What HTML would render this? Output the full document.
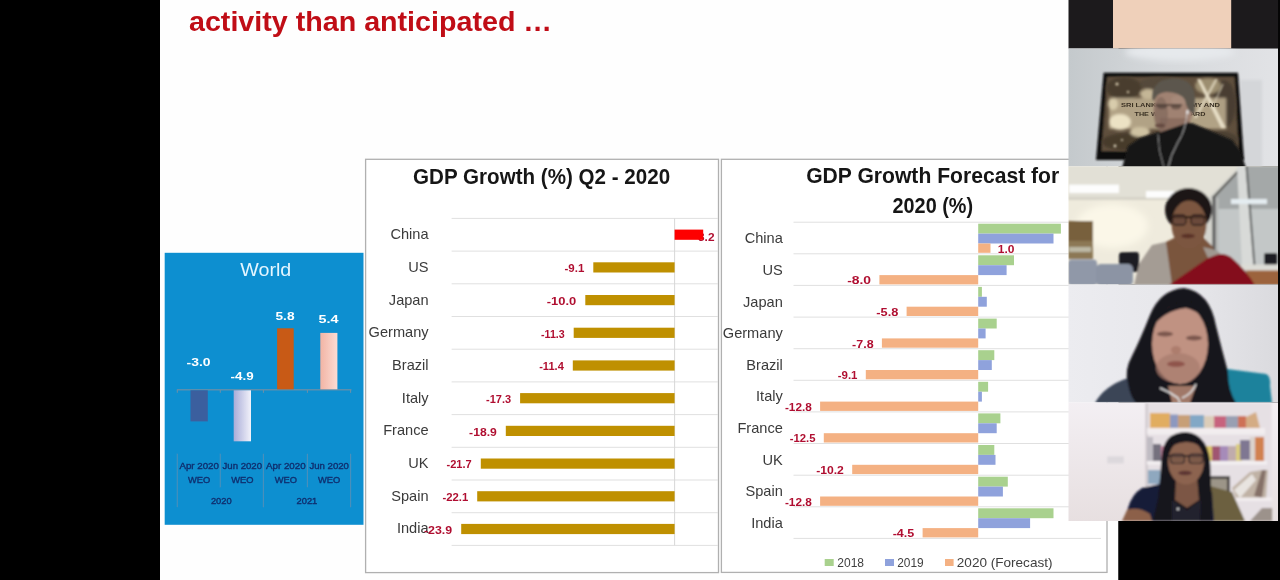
<!DOCTYPE html>
<html><head><meta charset="utf-8"><title>Webinar</title>
<style>
html,body{margin:0;padding:0;background:#000;}
body{width:1280px;height:580px;overflow:hidden;position:relative;}
svg{position:absolute;left:0;top:0;display:block;}
text{font-family:"Liberation Sans",sans-serif;}
.lbl{font-size:14.6px;fill:#3a3a3a;text-anchor:end;}
.val{font-size:11.6px;font-weight:bold;fill:#b01030;text-anchor:end;}
.ttl{font-size:21.5px;font-weight:bold;fill:#151515;text-anchor:middle;}
.wl{font-size:9.3px;fill:#123070;text-anchor:middle;stroke:#123070;stroke-width:0.4px;}
.wv{font-size:11.6px;font-weight:bold;fill:#fff;text-anchor:middle;}
.lg{font-size:13px;fill:#404040;}
</style></head><body>
<svg width="1280" height="580" viewBox="0 0 1280 580">
<defs>
<filter id="b1" x="-5%" y="-5%" width="110%" height="110%"><feGaussianBlur stdDeviation="0.9"/></filter>
<filter id="b2" x="-10%" y="-10%" width="120%" height="120%"><feGaussianBlur stdDeviation="1.6"/></filter>
<filter id="b3" x="-20%" y="-20%" width="140%" height="140%"><feGaussianBlur stdDeviation="3"/></filter>
<filter id="tb"><feGaussianBlur stdDeviation="0.35"/></filter>
<linearGradient id="gpink" x1="0" x2="1" y1="0" y2="0"><stop offset="0" stop-color="#f2b4a4"/><stop offset="1" stop-color="#fbdcd4"/></linearGradient>
<linearGradient id="glav" x1="0" x2="1" y1="0" y2="0"><stop offset="0" stop-color="#a8acd8"/><stop offset="1" stop-color="#f2f2fa"/></linearGradient>
<clipPath id="c1"><rect x="1068.5" y="48.5" width="211.5" height="118"/></clipPath>
<clipPath id="c2"><rect x="1068.5" y="166.5" width="211.5" height="118"/></clipPath>
<clipPath id="c3"><rect x="1068.5" y="284.5" width="211.5" height="118"/></clipPath>
<clipPath id="c4"><rect x="1068.5" y="402.5" width="211.5" height="118.5"/></clipPath>
</defs>
<rect x="0" y="0" width="1280" height="580" fill="#000"/>
<rect x="160" y="0" width="958.5" height="580" fill="#fefefe"/>

<g filter="url(#tb)">
<text x="189" y="31" font-size="28px" font-weight="bold" fill="#c00a14" textLength="363" lengthAdjust="spacingAndGlyphs">activity than anticipated …</text>
<rect x="164.7" y="252.8" width="198.8" height="272" fill="#0f8fd0"/>
<text x="265.8" y="275.5" font-size="18.5px" fill="#e4f6ff" text-anchor="middle" textLength="51" lengthAdjust="spacingAndGlyphs">World</text>
<rect x="176.8" y="389.2" width="174.6" height="1.2" fill="#6f8fa6"/>
<rect x="176.8" y="453.7" width="1" height="53.5" fill="#4f8fb8"/>
<rect x="176.8" y="389.8" width="1" height="3" fill="#6f8fa6"/>
<rect x="219.8" y="453.7" width="1" height="33.6" fill="#4f8fb8"/>
<rect x="219.8" y="389.8" width="1" height="3" fill="#6f8fa6"/>
<rect x="262.9" y="453.7" width="1" height="53.5" fill="#4f8fb8"/>
<rect x="262.9" y="389.8" width="1" height="3" fill="#6f8fa6"/>
<rect x="306.9" y="453.7" width="1" height="33.6" fill="#4f8fb8"/>
<rect x="306.9" y="389.8" width="1" height="3" fill="#6f8fa6"/>
<rect x="350.1" y="453.7" width="1" height="53.5" fill="#4f8fb8"/>
<rect x="350.1" y="389.8" width="1" height="3" fill="#6f8fa6"/>
<rect x="190.5" y="390.3" width="17.3" height="31.1" fill="#3a5f9e"/>
<rect x="233.7" y="390.3" width="17.3" height="51" fill="url(#glav)"/>
<rect x="277.1" y="328.3" width="16.6" height="61" fill="#c85a12"/>
<rect x="320.3" y="332.9" width="17.1" height="56.4" fill="url(#gpink)"/>
<text class="wv" x="198.5" y="366" textLength="24" lengthAdjust="spacingAndGlyphs">-3.0</text>
<text class="wv" x="242.1" y="379.5" textLength="23" lengthAdjust="spacingAndGlyphs">-4.9</text>
<text class="wv" x="285" y="319.5" textLength="19" lengthAdjust="spacingAndGlyphs">5.8</text>
<text class="wv" x="328.5" y="322.6" textLength="20" lengthAdjust="spacingAndGlyphs">5.4</text>
<text class="wl" x="199.2" y="469.2" textLength="39.5" lengthAdjust="spacingAndGlyphs">Apr 2020</text>
<text class="wl" x="199.2" y="482.7">WEO</text>
<text class="wl" x="242.3" y="469.2" textLength="39.5" lengthAdjust="spacingAndGlyphs">Jun 2020</text>
<text class="wl" x="242.3" y="482.7">WEO</text>
<text class="wl" x="285.8" y="469.2" textLength="39.5" lengthAdjust="spacingAndGlyphs">Apr 2020</text>
<text class="wl" x="285.8" y="482.7">WEO</text>
<text class="wl" x="329.2" y="469.2" textLength="39.5" lengthAdjust="spacingAndGlyphs">Jun 2020</text>
<text class="wl" x="329.2" y="482.7">WEO</text>
<text class="wl" x="221.3" y="503.6">2020</text>
<text class="wl" x="306.9" y="503.6">2021</text>
<rect x="365.6" y="159.3" width="352.9" height="413.3" fill="#fff" stroke="#b0b0b0" stroke-width="1.3"/>
<text class="ttl" x="541.6" y="183.5" textLength="257" lengthAdjust="spacingAndGlyphs">GDP Growth (%) Q2 - 2020</text>
<rect x="451.6" y="217.9" width="266.4" height="1" fill="#e0e0e0"/>
<rect x="451.6" y="250.6" width="266.4" height="1" fill="#e0e0e0"/>
<rect x="451.6" y="283.3" width="266.4" height="1" fill="#e0e0e0"/>
<rect x="451.6" y="316.0" width="266.4" height="1" fill="#e0e0e0"/>
<rect x="451.6" y="348.7" width="266.4" height="1" fill="#e0e0e0"/>
<rect x="451.6" y="381.4" width="266.4" height="1" fill="#e0e0e0"/>
<rect x="451.6" y="414.1" width="266.4" height="1" fill="#e0e0e0"/>
<rect x="451.6" y="446.8" width="266.4" height="1" fill="#e0e0e0"/>
<rect x="451.6" y="479.5" width="266.4" height="1" fill="#e0e0e0"/>
<rect x="451.6" y="512.2" width="266.4" height="1" fill="#e0e0e0"/>
<rect x="451.6" y="544.9" width="266.4" height="1" fill="#e0e0e0"/>
<rect x="674.1" y="218.4" width="1" height="327.0" fill="#d8d8d8"/>
<text class="val" x="714.5" y="241.2" textLength="16.5" lengthAdjust="spacingAndGlyphs">3.2</text>
<rect x="674.6" y="229.6" width="28.6" height="10.2" fill="#fe0000"/>
<rect x="593.3" y="262.3" width="81.3" height="10.2" fill="#bf9000"/>
<rect x="585.3" y="295.0" width="89.3" height="10.2" fill="#bf9000"/>
<rect x="573.7" y="327.7" width="100.9" height="10.2" fill="#bf9000"/>
<rect x="572.8" y="360.4" width="101.8" height="10.2" fill="#bf9000"/>
<rect x="520.1" y="393.1" width="154.5" height="10.2" fill="#bf9000"/>
<rect x="505.8" y="425.8" width="168.8" height="10.2" fill="#bf9000"/>
<rect x="480.8" y="458.5" width="193.8" height="10.2" fill="#bf9000"/>
<rect x="477.2" y="491.2" width="197.4" height="10.2" fill="#bf9000"/>
<rect x="461.2" y="523.9" width="213.4" height="10.2" fill="#bf9000"/>
<text class="lbl" x="428.6" y="239.1">China</text>
<text class="lbl" x="428.6" y="271.8">US</text>
<text class="val" x="584.3" y="272.1" textLength="19.8" lengthAdjust="spacingAndGlyphs">-9.1</text>
<text class="lbl" x="428.6" y="304.5">Japan</text>
<text class="val" x="576.3" y="304.8" textLength="29.5" lengthAdjust="spacingAndGlyphs">-10.0</text>
<text class="lbl" x="428.6" y="337.2">Germany</text>
<text class="val" x="564.7" y="337.5" textLength="23.7" lengthAdjust="spacingAndGlyphs">-11.3</text>
<text class="lbl" x="428.6" y="369.9">Brazil</text>
<text class="val" x="563.8" y="370.2" textLength="24.6" lengthAdjust="spacingAndGlyphs">-11.4</text>
<text class="lbl" x="428.6" y="402.6">Italy</text>
<text class="val" x="511.1" y="402.9" textLength="25.1" lengthAdjust="spacingAndGlyphs">-17.3</text>
<text class="lbl" x="428.6" y="435.3">France</text>
<text class="val" x="496.8" y="435.6" textLength="27.7" lengthAdjust="spacingAndGlyphs">-18.9</text>
<text class="lbl" x="428.6" y="468.0">UK</text>
<text class="val" x="471.8" y="468.3" textLength="25.3" lengthAdjust="spacingAndGlyphs">-21.7</text>
<text class="lbl" x="428.6" y="500.7">Spain</text>
<text class="val" x="468.2" y="501.0" textLength="25.8" lengthAdjust="spacingAndGlyphs">-22.1</text>
<text class="lbl" x="428.6" y="533.4">India</text>
<text class="val" x="452.2" y="533.7" textLength="28.2" lengthAdjust="spacingAndGlyphs">-23.9</text>
<rect x="721.4" y="159.3" width="385.6" height="413.1" fill="#fff" stroke="#b0b0b0" stroke-width="1.3"/>
<text class="ttl" x="932.7" y="183" textLength="253" lengthAdjust="spacingAndGlyphs">GDP Growth Forecast for</text>
<text class="ttl" x="932.8" y="213" textLength="80.5" lengthAdjust="spacingAndGlyphs">2020 (%)</text>
<rect x="793.5" y="221.7" width="307.5" height="1" fill="#e0e0e0"/>
<rect x="793.5" y="253.3" width="307.5" height="1" fill="#e0e0e0"/>
<rect x="793.5" y="284.9" width="307.5" height="1" fill="#e0e0e0"/>
<rect x="793.5" y="316.6" width="307.5" height="1" fill="#e0e0e0"/>
<rect x="793.5" y="348.2" width="307.5" height="1" fill="#e0e0e0"/>
<rect x="793.5" y="379.8" width="307.5" height="1" fill="#e0e0e0"/>
<rect x="793.5" y="411.4" width="307.5" height="1" fill="#e0e0e0"/>
<rect x="793.5" y="443.0" width="307.5" height="1" fill="#e0e0e0"/>
<rect x="793.5" y="474.7" width="307.5" height="1" fill="#e0e0e0"/>
<rect x="793.5" y="506.3" width="307.5" height="1" fill="#e0e0e0"/>
<rect x="793.5" y="537.9" width="307.5" height="1" fill="#e0e0e0"/>
<rect x="978.2" y="223.7" width="82.7" height="9.9" fill="#a9d18e"/>
<rect x="978.2" y="233.6" width="75.3" height="9.9" fill="#8fa2dc"/>
<rect x="978.2" y="243.5" width="12.3" height="9.3" fill="#f4b183"/>
<rect x="978.2" y="255.3" width="35.8" height="9.9" fill="#a9d18e"/>
<rect x="978.2" y="265.2" width="28.4" height="9.9" fill="#8fa2dc"/>
<rect x="879.4" y="275.1" width="98.8" height="9.3" fill="#f4b183"/>
<rect x="978.2" y="286.9" width="3.7" height="9.9" fill="#a9d18e"/>
<rect x="978.2" y="296.8" width="8.6" height="9.9" fill="#8fa2dc"/>
<rect x="906.6" y="306.7" width="71.6" height="9.3" fill="#f4b183"/>
<rect x="978.2" y="318.6" width="18.5" height="9.9" fill="#a9d18e"/>
<rect x="978.2" y="328.5" width="7.4" height="9.9" fill="#8fa2dc"/>
<rect x="881.9" y="338.4" width="96.3" height="9.3" fill="#f4b183"/>
<rect x="978.2" y="350.2" width="16.1" height="9.9" fill="#a9d18e"/>
<rect x="978.2" y="360.1" width="13.6" height="9.9" fill="#8fa2dc"/>
<rect x="865.8" y="370.0" width="112.4" height="9.3" fill="#f4b183"/>
<rect x="978.2" y="381.8" width="9.9" height="9.9" fill="#a9d18e"/>
<rect x="978.2" y="391.7" width="3.7" height="9.9" fill="#8fa2dc"/>
<rect x="820.1" y="401.6" width="158.1" height="9.3" fill="#f4b183"/>
<rect x="978.2" y="413.4" width="22.2" height="9.9" fill="#a9d18e"/>
<rect x="978.2" y="423.3" width="18.5" height="9.9" fill="#8fa2dc"/>
<rect x="823.8" y="433.2" width="154.4" height="9.3" fill="#f4b183"/>
<rect x="978.2" y="445.0" width="16.1" height="9.9" fill="#a9d18e"/>
<rect x="978.2" y="454.9" width="17.3" height="9.9" fill="#8fa2dc"/>
<rect x="852.2" y="464.8" width="126.0" height="9.3" fill="#f4b183"/>
<rect x="978.2" y="476.7" width="29.6" height="9.9" fill="#a9d18e"/>
<rect x="978.2" y="486.6" width="24.7" height="9.9" fill="#8fa2dc"/>
<rect x="820.1" y="496.5" width="158.1" height="9.3" fill="#f4b183"/>
<rect x="978.2" y="508.3" width="75.3" height="9.9" fill="#a9d18e"/>
<rect x="978.2" y="518.2" width="51.9" height="9.9" fill="#8fa2dc"/>
<rect x="922.6" y="528.1" width="55.6" height="9.3" fill="#f4b183"/>
<text class="lbl" x="782.8" y="243.3">China</text>
<text class="val" x="1014.5" y="253.2" textLength="16.7" lengthAdjust="spacingAndGlyphs">1.0</text>
<text class="lbl" x="782.8" y="274.9">US</text>
<text class="val" x="871.1" y="284.2" textLength="23.9" lengthAdjust="spacingAndGlyphs">-8.0</text>
<text class="lbl" x="782.8" y="306.5">Japan</text>
<text class="val" x="898.3" y="315.8" textLength="22.0" lengthAdjust="spacingAndGlyphs">-5.8</text>
<text class="lbl" x="782.8" y="338.2">Germany</text>
<text class="val" x="873.6" y="347.5" textLength="21.5" lengthAdjust="spacingAndGlyphs">-7.8</text>
<text class="lbl" x="782.8" y="369.8">Brazil</text>
<text class="val" x="857.5" y="379.1" textLength="19.8" lengthAdjust="spacingAndGlyphs">-9.1</text>
<text class="lbl" x="782.8" y="401.4">Italy</text>
<text class="val" x="811.8" y="410.7" textLength="26.9" lengthAdjust="spacingAndGlyphs">-12.8</text>
<text class="lbl" x="782.8" y="433.0">France</text>
<text class="val" x="815.5" y="442.3" textLength="25.8" lengthAdjust="spacingAndGlyphs">-12.5</text>
<text class="lbl" x="782.8" y="464.6">UK</text>
<text class="val" x="843.9" y="473.9" textLength="27.7" lengthAdjust="spacingAndGlyphs">-10.2</text>
<text class="lbl" x="782.8" y="496.3">Spain</text>
<text class="val" x="811.8" y="505.6" textLength="26.9" lengthAdjust="spacingAndGlyphs">-12.8</text>
<text class="lbl" x="782.8" y="527.9">India</text>
<text class="val" x="914.3" y="537.2" textLength="21.6" lengthAdjust="spacingAndGlyphs">-4.5</text>
<rect x="824.7" y="559" width="9" height="7" fill="#a9d18e"/>
<text class="lg" x="837.3" y="566.8" textLength="26.7" lengthAdjust="spacingAndGlyphs">2018</text>
<rect x="885" y="559" width="9" height="7" fill="#8fa2dc"/>
<text class="lg" x="897.2" y="566.8" textLength="26.5" lengthAdjust="spacingAndGlyphs">2019</text>
<rect x="945" y="559" width="8.6" height="7" fill="#f4b183"/>
<text class="lg" x="956.8" y="566.8" textLength="95.7" lengthAdjust="spacingAndGlyphs">2020 (Forecast)</text>
</g>
<rect x="1118.5" y="520.8" width="161.5" height="59.2" fill="#000"/>
<rect x="1068.5" y="0" width="211.5" height="48.5" fill="#1c1a1c"/>
<rect x="1113" y="0" width="118.2" height="48.4" fill="#efd0ba"/>
<!-- ===== Tile 1 : man + TV ===== -->
<g clip-path="url(#c1)">
<linearGradient id="t1bg" x1="0" x2="1" y1="0" y2="0"><stop offset="0" stop-color="#c4c9cc"/><stop offset="0.45" stop-color="#d6d9dc"/><stop offset="1" stop-color="#e2e3e6"/></linearGradient>
<rect x="1068" y="48" width="212" height="119" fill="url(#t1bg)"/>
<rect x="1240" y="80" width="22" height="90" fill="#d4d6d9" filter="url(#b2)"/>
<ellipse cx="1180" cy="52" rx="55" ry="9" fill="#e6e9ec" filter="url(#b3)"/>
<g filter="url(#b1)">
<polygon points="1103.6,72.8 1238,72.8 1244,160 1096,160" fill="#0c0c0e"/>
<polygon points="1107.3,77 1234.5,77 1238.5,151 1101.5,151" fill="#5e503c"/>
</g>
<g filter="url(#b2)">
<ellipse cx="1124" cy="88" rx="18" ry="11" fill="#4a3e2e"/>
<ellipse cx="1160" cy="84" rx="20" ry="7" fill="#54483a"/>
<ellipse cx="1224" cy="104" rx="12" ry="24" fill="#4a3e30"/>
<ellipse cx="1128" cy="142" rx="26" ry="9" fill="#463a2c"/>
<ellipse cx="1220" cy="140" rx="18" ry="9" fill="#4c4032"/>
<rect x="1109" y="98" width="117" height="31" fill="#bfb092" opacity="0.85"/>
<ellipse cx="1120" cy="122" rx="11" ry="8" fill="#ece2c4"/>
<ellipse cx="1113" cy="104" rx="5" ry="6" fill="#d8ccac"/>
<ellipse cx="1140" cy="132" rx="10" ry="5" fill="#cfc2a2"/>
<ellipse cx="1148" cy="94" rx="8" ry="5" fill="#c4b696"/>
<ellipse cx="1208" cy="86" rx="13" ry="8" fill="#9c8e70"/>
</g>
<g filter="url(#b1)">
<polygon points="1197,79 1200.5,79 1226,128 1221,128" fill="#f0e8d0" opacity="0.85"/>
<polygon points="1215,79 1218,79 1197,118 1193.5,118" fill="#e8e0c8" opacity="0.7"/>
<polygon points="1222,84 1224,84 1214,106 1212,106" fill="#e8e0c8" opacity="0.5"/>
<circle cx="1117" cy="84" r="1.6" fill="#d8ccb0"/>
<circle cx="1128" cy="92" r="1.2" fill="#d0c4a8"/>
<circle cx="1115" cy="146" r="1.4" fill="#e0d8c0"/>
<circle cx="1122" cy="140" r="1.1" fill="#d8d0b8"/>
<circle cx="1232" cy="146" r="1.3" fill="#d8d0b8"/>
</g>
<g filter="url(#tb)">
<text x="1170.5" y="106.5" font-size="5.6px" font-weight="bold" fill="#3a3024" text-anchor="middle" textLength="99" lengthAdjust="spacingAndGlyphs">SRI LANKA ECONOMY AND</text>
<text x="1170" y="116" font-size="5.6px" font-weight="bold" fill="#3a3024" text-anchor="middle" textLength="71" lengthAdjust="spacingAndGlyphs">THE WAY FORWARD</text>
</g>
<g filter="url(#b1)">
<!-- body -->
<polygon points="1122,168 1128,146 1140,138 1158,132 1172,128 1192,123 1204,128 1232,140 1240,150 1246,168" fill="#161616"/>
<!-- neck/face -->
<ellipse cx="1173" cy="110" rx="19.5" ry="25" fill="#a08272"/>
<rect x="1160" y="118" width="28" height="18" fill="#8c6e60"/>
<ellipse cx="1161" cy="114" rx="7" ry="17" fill="#7c6458" opacity="0.6"/>
<ellipse cx="1180" cy="100" rx="9" ry="5" fill="#a88c7c" opacity="0.7"/>
<!-- hair -->
<path d="M1152.5,99 Q1151,80 1172,78.5 Q1194,77.5 1195,98 L1194.5,114 Q1187,112 1185,100 Q1180,92 1166,92 Q1156,93 1154,101 Z" fill="#5c564e"/>
<!-- glasses / features -->
<rect x="1155" y="104" width="27" height="2" fill="#4a3c34" opacity="0.8"/>
<ellipse cx="1162" cy="106.5" rx="5" ry="2.4" fill="#4a3a34" opacity="0.6"/>
<ellipse cx="1176" cy="107" rx="5" ry="2.4" fill="#4a3a34" opacity="0.6"/>
<ellipse cx="1160" cy="125.5" rx="5" ry="2" fill="#5c4038" opacity="0.8"/>
<polygon points="1158,133 1190,122 1198,168 1150,168" fill="#161616"/>
<path d="M1187,112 Q1186,130 1178,142 Q1170,156 1168,168" stroke="#d0d0d0" stroke-width="0.8" fill="none"/>
<path d="M1158,134 Q1158,150 1164,168" stroke="#b8b8b8" stroke-width="0.7" fill="none"/>
<ellipse cx="1187.5" cy="112" rx="1.2" ry="2.2" fill="#e8e8e8"/>
</g>

</g>

<!-- ===== Tile 2 : woman in office ===== -->
<g clip-path="url(#c2)">
<rect x="1068" y="166" width="212" height="119" fill="#efebdd"/>
<g filter="url(#b1)">
<rect x="1068" y="166" width="212" height="33" fill="#e2e0d6"/>
<rect x="1068" y="197" width="150" height="3" fill="#d6d3c8"/>
<ellipse cx="1112" cy="226" rx="36" ry="22" fill="#fbf7e8" filter="url(#b3)"/>
<rect x="1069" y="184.6" width="50" height="8.4" fill="#fdfdfd"/>
<rect x="1146" y="191" width="28.5" height="6.8" fill="#fdfdfd"/>
<!-- right glass partition -->
<polygon points="1211,199 1237,171 1237,166 1280,166 1280,285 1211,285" fill="#a4a8a8"/>
<polygon points="1218,209 1280,209 1280,270 1218,270" fill="#c3c7c7"/>
<polygon points="1205,201 1237,169 1237,166 1243,166 1214,197 1214,250 1205,250" fill="#d4d4ce"/>
<polygon points="1212,197 1237,171 1238,173 1214.5,198" fill="#5e5e5a"/>
<rect x="1212.3" y="196" width="3.2" height="54" fill="#606060"/>
<rect x="1216" y="198" width="2.6" height="52" fill="#b8bab8"/>
<polygon points="1237,166 1245.5,166 1253.5,266 1242,266" fill="#d8dad8"/>
<polygon points="1245.5,166 1247.5,166 1255.5,266 1253.5,266" fill="#5c5e5e"/>
<rect x="1231" y="199" width="36" height="5" fill="#e4ecf0"/>
<!-- shelf left -->
<rect x="1068" y="221" width="25" height="20" fill="#78603e"/>
<rect x="1068" y="241" width="25" height="18" fill="#8c7854"/>
<rect x="1069" y="247" width="22" height="5" fill="#c8c8b8" opacity="0.8"/>
<!-- chairs -->
<rect x="1119" y="252" width="20" height="20" rx="3" fill="#1c1c20"/>
<rect x="1068" y="259.5" width="29" height="26" rx="4" fill="#9098a8"/>
<rect x="1096" y="264" width="37" height="22" rx="5" fill="#8c94a4"/>
<rect x="1264" y="253" width="13.5" height="12" rx="2" fill="#1c1c20"/>
<polygon points="1246,270 1280,270 1280,285 1250,285" fill="#9c643c"/>
<rect x="1241" y="264.5" width="39" height="6" fill="#dcdcd6"/>
<!-- woman -->
<polygon points="1134,285 1139,264 1152,245 1170,241 1180,285" fill="#a49c94"/>
<polygon points="1166,242 1178,236 1202,236 1214,248 1200,285 1172,285" fill="#7a543e"/>
<path d="M1169,285 L1208,258 Q1222,250 1232,258 Q1246,270 1255,285 Z" fill="#84101a"/>
<polygon points="1203,247 1212,249 1221,253 1208,258" fill="#a09890"/>
<ellipse cx="1188.5" cy="210" rx="23.5" ry="22" fill="#1c1618"/>
<ellipse cx="1189" cy="224.5" rx="17.5" ry="24" fill="#7c5640"/>
<path d="M1167,216 Q1169,196 1188,194 Q1207,194 1211,218 Q1203,201 1190,199 Q1176,199 1167,216Z" fill="#1c1618"/>
<rect x="1171" y="216" width="36" height="2.2" fill="#2a1c18"/>
<rect x="1172.5" y="215" width="13.5" height="10" rx="3.5" fill="#5c4034" fill-opacity="0.55" stroke="#2a1c18" stroke-width="1.3"/>
<rect x="1191" y="215" width="13.5" height="10" rx="3.5" fill="#5c4034" fill-opacity="0.55" stroke="#2a1c18" stroke-width="1.3"/>
<ellipse cx="1188" cy="236" rx="7" ry="2.2" fill="#5a3028"/>
</g>
</g>

<!-- ===== Tile 3 : woman white wall ===== -->
<g clip-path="url(#c3)">
<linearGradient id="t3bg" x1="0" x2="1" y1="0" y2="0"><stop offset="0" stop-color="#ececf0"/><stop offset="0.6" stop-color="#e6e6ea"/><stop offset="1" stop-color="#dadade"/></linearGradient>
<rect x="1068" y="284" width="212" height="119" fill="url(#t3bg)"/>
<g filter="url(#b1)">
<path d="M1227,369 L1266,374 Q1271,376 1270,386 L1272,403 L1224,403 Z" fill="#1b829c"/>
<path d="M1095,403 Q1104,386 1128,378 L1150,372 L1150,403 Z" fill="#3a4456"/>
<path d="M1184,288 Q1160,290 1150,315 Q1140,340 1132,356 Q1124,370 1128,384 Q1130,396 1136,403 L1236,403 Q1228,390 1228,372 Q1222,350 1216,326 Q1210,292 1184,288 Z" fill="#17131a"/>
<ellipse cx="1180" cy="344" rx="28" ry="40" fill="#c09282"/>
<ellipse cx="1178" cy="368" rx="22" ry="15" fill="#a87c6e" opacity="0.75"/>
<path d="M1150,330 Q1160,306 1186,300 Q1204,304 1210,330 Q1204,312 1186,308 Q1164,310 1150,330Z" fill="#17131a"/>
<ellipse cx="1165" cy="334" rx="8" ry="2.4" fill="#6a4840" opacity="0.8"/>
<ellipse cx="1194" cy="338" rx="8" ry="2.4" fill="#6a4840" opacity="0.8"/>
<ellipse cx="1176" cy="364" rx="9" ry="3" fill="#8c5048" opacity="0.9"/>
<ellipse cx="1176" cy="350" rx="5" ry="4" fill="#a87868" opacity="0.8"/>
<polygon points="1156,384 1206,384 1214,403 1150,403" fill="#17131a"/>
<polygon points="1168,386 1196,386 1190,403 1172,403" fill="#a07868"/>
<path d="M1160,388 Q1170,392 1178,398 L1180,403" stroke="#e0e0e0" stroke-width="1.6" fill="none"/>
<path d="M1196,384 Q1192,394 1182,398" stroke="#e0e0e0" stroke-width="1.6" fill="none"/>
</g>

</g>

<!-- ===== Tile 4 : woman bookshelf ===== -->
<g clip-path="url(#c4)">
<linearGradient id="t4bg" x1="0" x2="0" y1="0" y2="1"><stop offset="0" stop-color="#f3eff3"/><stop offset="1" stop-color="#e7dfe0"/></linearGradient>
<rect x="1068" y="402" width="212" height="120" fill="url(#t4bg)"/>
<g filter="url(#b1)">
<rect x="1107.3" y="456.4" width="16.5" height="7" fill="#dcd8dc"/>
<rect x="1146.6" y="403" width="125" height="118" fill="#e6e0e4"/>
<rect x="1145.5" y="403" width="2.5" height="118" fill="#cfc8cc"/>
<!-- row1 books -->
<rect x="1150" y="413" width="20" height="15.5" fill="#e0a244"/>
<rect x="1170" y="414.5" width="8" height="14" fill="#7888b8"/>
<rect x="1178" y="415" width="12" height="13.5" fill="#c09060"/>
<rect x="1190" y="415" width="14" height="13.5" fill="#6c9cc0"/>
<rect x="1204" y="416" width="10" height="12.5" fill="#d8c8b0"/>
<rect x="1214" y="416" width="12" height="12.5" fill="#c04868"/>
<rect x="1226" y="416" width="12" height="12.5" fill="#8890a8"/>
<rect x="1238" y="416" width="8" height="12.5" fill="#c85838"/>
<polygon points="1246,417 1256,412 1260,428 1246,428" fill="#d0a070"/>
<rect x="1147" y="428" width="118" height="6.5" fill="#f4f0f2"/>
<!-- row2 books -->
<rect x="1147" y="437" width="6" height="24" fill="#b8b4bc"/>
<rect x="1153" y="444" width="8" height="17" fill="#5c5868"/>
<rect x="1161" y="446" width="6" height="15" fill="#c07090"/>
<rect x="1206" y="446" width="6" height="16" fill="#d8c050"/>
<rect x="1212" y="446" width="8" height="16" fill="#903858"/>
<rect x="1220" y="446" width="8" height="16" fill="#9878b0"/>
<rect x="1228" y="446" width="8" height="16" fill="#b8a0a0"/>
<rect x="1236" y="444" width="6" height="18" fill="#d8c868"/>
<rect x="1240" y="440" width="10" height="20" fill="#686080"/>
<rect x="1250" y="437" width="6" height="24" fill="#d8d0c8"/>
<rect x="1255" y="437" width="9" height="24" fill="#cc6c30"/>
<rect x="1147" y="461" width="120" height="3.6" fill="#f6f2f4"/>
<!-- row3 -->
<rect x="1148" y="470" width="12" height="14" fill="#7c9cb8"/>
<rect x="1208" y="476" width="22" height="18" fill="#2c2824"/>
<rect x="1211" y="479" width="16" height="13" fill="#8c8474"/>
<polygon points="1232,488 1250,472 1262,470 1268,470 1266,498 1236,498" fill="#b8a898"/>
<polygon points="1234,490 1252,474 1256,480 1240,498" fill="#e8e4e0"/>
<polygon points="1254,496 1262,470 1266,470 1262,498" fill="#70584c"/>
<rect x="1236" y="497.5" width="36" height="3.4" fill="#f4f0f2"/>
<polygon points="1250,521 1262,508 1272,508 1272,521" fill="#8c8078"/>
<rect x="1147" y="403" width="125" height="118" fill="#e8e2e6" opacity="0.18"/>
<!-- woman -->
<polygon points="1210,486 1232,492 1245,521 1206,521" fill="#6c6040"/>
<path d="M1124,521 L1128,508 Q1132,494 1142,488 L1164,483 L1200,484 L1212,492 L1214,521 Z" fill="#181c38"/>
<path d="M1122,521 L1127,510 Q1138,506 1150,514 L1152,521 Z" fill="#8c6048"/>
<path d="M1186,432 Q1163,432 1161.5,458 Q1160,480 1158,498 L1153,521 L1212,521 Q1212,498 1210.5,476 Q1212,434 1186,432Z" fill="#15121a"/>
<polygon points="1176,476 1197,476 1199,500 1187,508 1175,500" fill="#7c5644"/>
<polygon points="1172,500 1187,510 1201,500 1200,521 1172,521" fill="#23202e"/>
<ellipse cx="1186" cy="462" rx="18" ry="22.5" fill="#8c6450"/>
<path d="M1166,452 Q1169,439 1186,438.5 Q1203,439 1206.5,454 Q1200,442 1186,442 Q1174,442 1166,452Z" fill="#15121a"/>
<rect x="1169" y="455" width="35" height="1.8" fill="#2a2024"/>
<rect x="1170.5" y="454" width="14" height="9.5" rx="3.5" fill="#6c5044" fill-opacity="0.5" stroke="#2a2024" stroke-width="1.2"/>
<rect x="1189" y="454" width="14" height="9.5" rx="3.5" fill="#6c5044" fill-opacity="0.5" stroke="#2a2024" stroke-width="1.2"/>
<ellipse cx="1185" cy="473" rx="7" ry="2.2" fill="#5c3430"/>
<circle cx="1178" cy="509" r="1.2" fill="#ddd"/>
</g>

</g>

<rect x="1278" y="0" width="2" height="521" fill="#050505"/>

</svg></body></html>
